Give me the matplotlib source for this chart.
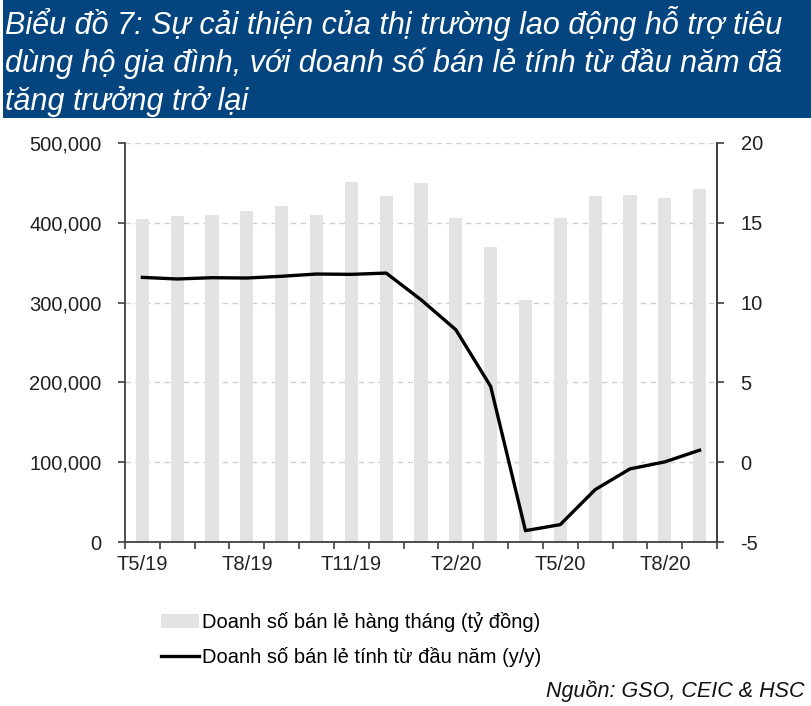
import matplotlib
matplotlib.use("Agg")
import matplotlib.pyplot as plt
import numpy as np
from matplotlib.patches import Rectangle
from matplotlib.ticker import FuncFormatter, FixedLocator

plt.rcParams['font.family'] = ['Liberation Sans', 'DejaVu Sans']
plt.rcParams['axes.unicode_minus'] = False

months = ["T5/19", "T6/19", "T7/19", "T8/19", "T9/19", "T10/19", "T11/19", "T12/19",
          "T1/20", "T2/20", "T3/20", "T4/20", "T5/20", "T6/20", "T7/20", "T8/20", "T9/20"]
monthly_sales = [404300, 408900, 410200, 414800, 421500, 410200, 451100, 433600,
                 449900, 406400, 370100, 303300, 405600, 433600, 435300, 430700, 441900]
ytd_growth = [11.58, 11.48, 11.56, 11.54, 11.65, 11.79, 11.77, 11.85,
              10.18, 8.30, 4.75, -4.29, -3.91, -1.72, -0.42, 0.02, 0.75]
shown_labels = ["T5/19", "T8/19", "T11/19", "T2/20", "T5/20", "T8/20"]

title = ("Biểu đồ 7: Sự cải thiện của thị trường lao động hỗ trợ tiêu\n"
         "dùng hộ gia đình, với doanh số bán lẻ tính từ đầu năm đã\n"
         "tăng trưởng trở lại")
bar_label = "Doanh số bán lẻ hàng tháng (tỷ đồng)"
line_label = "Doanh số bán lẻ tính từ đầu năm (y/y)"
source = "Nguồn: GSO, CEIC & HSC"

W, H = 811, 706
fig = plt.figure(figsize=(W / 100, H / 100), dpi=100)

# Title banner
fig.patches.append(Rectangle((3 / W, 1 - 118 / H), (W - 3) / W, 118 / H,
                             transform=fig.transFigure, facecolor="#04457F",
                             edgecolor="none", zorder=0))
fig.text(5 / W, 1 - 6 / H, title, color="white", fontsize=22, style="italic",
         va="top", ha="left", linespacing=1.27)

ax = fig.add_axes([125 / W, 1 - 542 / H, (717 - 125) / W, (542 - 143) / H])
x = np.arange(len(months))
ax.bar(x, monthly_sales, width=0.38, color="#E3E3E3", zorder=2, label=bar_label)
ax.set_xlim(-0.5, len(months) - 0.5)
ax.set_ylim(0, 500000)
ax.set_yticks(np.arange(0, 500001, 100000))
ax.yaxis.set_major_formatter(FuncFormatter(lambda v, p: f"{int(v):,}"))
ax.grid(axis="y", color="#D0D0D0", linestyle=(0, (4, 3)), linewidth=1.0, zorder=0)
ax.set_axisbelow(True)

label_pos = [months.index(m) for m in shown_labels]
ax.set_xticks(label_pos)
ax.set_xticklabels(shown_labels)
ax.xaxis.set_minor_locator(FixedLocator(np.arange(-0.5, len(months), 1.0)))
ax.tick_params(axis="x", which="major", length=0, pad=9, labelsize=14.5, colors="#222222")
ax.tick_params(axis="x", which="minor", length=5, width=1.2, color="#404040", direction="out")
ax.tick_params(axis="y", length=5, width=1.2, color="#404040", pad=12, labelsize=14.5,
               labelcolor="#222222", direction="out")

ax.spines["top"].set_visible(False)
for s in ["left", "bottom", "right"]:
    ax.spines[s].set_color("#404040")
    ax.spines[s].set_linewidth(1.3)

ax2 = ax.twinx()
ax2.plot(x, ytd_growth, color="black", linewidth=2.4, zorder=3, label=line_label,
         solid_joinstyle="round")
ax2.set_ylim(-5, 20)
ax2.set_yticks(np.arange(-5, 21, 5))
ax2.tick_params(axis="y", length=5, width=1.2, color="#404040", pad=12, labelsize=14.5,
                labelcolor="#222222", direction="out")
for s in ["top", "left", "bottom"]:
    ax2.spines[s].set_visible(False)
ax2.spines["right"].set_color("#404040")
ax2.spines["right"].set_linewidth(1.3)

h1, l1 = ax.get_legend_handles_labels()
h2, l2 = ax2.get_legend_handles_labels()
fig.legend(h1 + h2, l1 + l2, loc="upper left", bbox_to_anchor=(153 / W, 1 - 604 / H),
           frameon=False, fontsize=14.5, handlelength=1.9, handletextpad=0.12,
           labelspacing=0.75, borderaxespad=0)

fig.text(805 / W, 1 - 691 / H, source, fontsize=15.5, style="italic", ha="right",
         va="center", color="#111111")

fig.savefig("out.png", dpi=100)
